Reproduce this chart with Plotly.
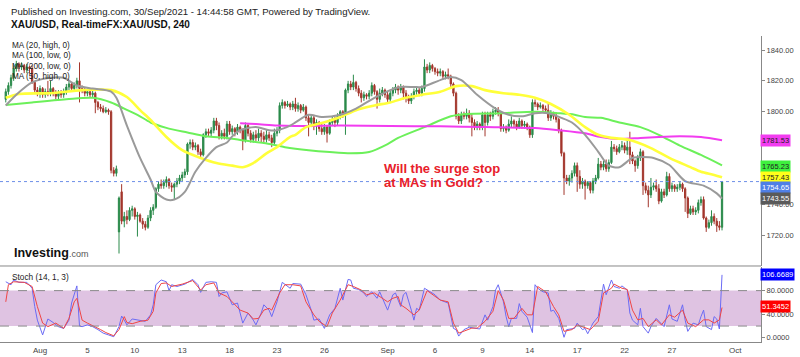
import plotly.graph_objects as go

# ---------------- DATA (4h candles, bar index 0..272) ----------------
opens = [1808,1813,1817,1822,1828,1831,1829,1830,1827,1829,1828,1819,1814,
 1812,1815,1811,1813,1812,1815, 1812,1810,1812,1811,1813,1816,
 1818,1815,1817,1820,1815,1814, 1812,1813,1811,1812,1806,1803,
 1802,1800,1801,1800,1762,1760, 1722,1748,1729,1732,1730,1736,
 1737,1732,1733,1729,1727,1725, 1731,1736,1738,1750,1753,1752,
 1754,1756,1752,1751,1753,1755, 1757,1759,1761,1779,1780,1777,
 1778,1774,1772,1785,1787,1786, 1788,1794,1791,1784,1786,1784,
 1792,1787,1789,1787,1790,1788, 1781,1791,1786,1782,1785,1783,
 1786,1784,1782,1785,1783,1780, 1786,1788,1804,1806,1804,1805,
 1803,1805,1802,1804,1801,1803, 1796,1793,1796,1792,1793,1789,
 1787,1790,1786,1793,1795,1793, 1797,1800,1798,1814,1818,1816,
 1819,1815,1812,1809,1811,1810, 1812,1817,1813,1808,1812,1814,
 1811,1808,1812,1814,1816,1814, 1816,1812,1809,1807,1810,1813,
 1814,1812,1815,1829,1827,1830, 1828,1826,1825,1826,1823,1824,
 1823,1818,1812,1797,1794,1798, 1797,1799,1796,1793,1790,1792,
 1790,1798,1793,1798,1797,1800, 1801,1799,1789,1790,1788,1792,
 1794,1792,1790,1794,1791,1792, 1790,1785,1806,1805,1803,1804,
 1802,1801,1796,1799,1797,1795, 1788,1773,1757,1755,1757,1760,
 1765,1758,1753,1755,1752,1754, 1749,1755,1757,1766,1764,1766,
 1763,1767,1777,1776,1774,1777, 1778,1775,1777,1772,1768,1765,
 1770,1774,1752,1749,1746,1751, 1752,1750,1742,1748,1746,1758,
 1750,1752,1750,1751,1753,1750, 1744,1734,1737,1735,1736,1741,
 1743,1731,1725,1728,1732,1729, 1726,1725]
highs = [1815,1819,1824,1830,1833,1832,1832,1831,1831,1830,1830,1820,1816,
 1817,1816,1815,1820,1820,1816, 1814,1814,1814,1815,1818,1820,
 1819,1819,1822,1832,1817,1816, 1815,1814,1814,1813,1807,1805,
 1804,1803,1802,1801,1764,1765, 1745,1753,1735,1736,1738,1739,
 1738,1735,1734,1731,1729,1733, 1738,1740,1751,1755,1756,1756,
 1758,1757,1754,1754,1757,1759, 1761,1763,1780,1782,1782,1780,
 1779,1776,1786,1789,1789,1790, 1796,1796,1793,1788,1789,1794,
 1794,1791,1790,1792,1791,1789, 1793,1792,1788,1787,1788,1789,
 1788,1787,1788,1787,1785,1789, 1790,1806,1808,1807,1807,1806,
 1807,1809,1806,1805,1805,1804, 1798,1798,1798,1795,1794,1792,
 1792,1791,1795,1797,1797,1799, 1801,1801,1815,1820,1820,1824,
 1820,1817,1814,1813,1812,1814, 1819,1818,1814,1815,1816,1815,
 1813,1814,1816,1818,1817,1818, 1817,1814,1811,1812,1815,1816,
 1816,1817,1834,1831,1832,1831, 1829,1828,1828,1827,1826,1828,
 1824,1819,1813,1799,1800,1800, 1802,1801,1799,1795,1794,1793,
 1800,1800,1800,1800,1802,1803, 1803,1800,1792,1791,1795,1797,
 1795,1794,1796,1795,1794,1793, 1791,1808,1808,1806,1806,1805,
 1804,1806,1801,1800,1799,1796, 1789,1774,1759,1759,1762,1767,
 1767,1762,1757,1756,1755,1755, 1757,1759,1770,1768,1768,1769,
 1769,1781,1779,1778,1779,1781, 1780,1782,1787,1774,1769,1772,
 1776,1775,1754,1752,1757,1754, 1756,1753,1750,1750,1761,1760,
 1754,1753,1753,1755,1754,1751, 1745,1739,1739,1738,1743,1745,
 1745,1732,1730,1736,1734,1731, 1729,1755]
lows = [1806,1811,1815,1820,1826,1826,1827,1825,1825,1825,1818,1812,1810,
 1809,1809,1809,1810,1810,1810, 1808,1808,1809,1809,1811,1814,
 1813,1813,1815,1806,1812,1810, 1810,1809,1809,1799,1801,1800,
 1799,1799,1798,1760,1758,1758, 1708,1727,1725,1727,1729,1732,
 1730,1719,1728,1724,1723,1724, 1729,1733,1737,1748,1750,1750,
 1751,1750,1748,1743,1751,1753, 1755,1757,1759,1776,1775,1775,
 1772,1770,1771,1783,1784,1784, 1786,1788,1782,1782,1782,1782,
 1785,1785,1784,1785,1786,1775, 1780,1784,1780,1780,1781,1781,
 1780,1780,1780,1781,1777,1779, 1784,1786,1802,1802,1803,1801,
 1801,1800,1800,1799,1800,1794, 1784,1790,1788,1785,1787,1785,
 1785,1780,1785,1791,1790,1791, 1795,1796,1785,1812,1814,1814,
 1813,1810,1806,1807,1808,1808, 1810,1811,1802,1806,1810,1809,
 1806,1806,1810,1812,1811,1812, 1808,1806,1805,1805,1808,1811,
 1810,1810,1813,1825,1825,1826, 1824,1823,1823,1821,1821,1821,
 1816,1810,1795,1792,1792,1795, 1795,1793,1784,1788,1788,1788,
 1788,1784,1791,1794,1795,1798, 1797,1787,1787,1786,1787,1790,
 1790,1788,1789,1789,1789,1788, 1783,1783,1803,1801,1802,1800,
 1799,1794,1794,1795,1793,1786, 1771,1746,1753,1752,1754,1758,
 1748,1750,1750,1743,1750,1747, 1747,1753,1756,1762,1762,1761,
 1761,1766,1774,1772,1773,1775, 1773,1772,1766,1766,1761,1763,
 1768,1746,1747,1738,1744,1749, 1748,1740,1741,1744,1745,1748,
 1748,1748,1748,1749,1748,1735, 1731,1733,1733,1733,1734,1739,
 1730,1722,1724,1726,1727,1722, 1723,1723]
closes = [1813,1817,1822,1828,1831,1829,1830,1827,1829,1828,1819,1814,1812,
 1815,1811,1813,1812,1815,1812, 1810,1812,1811,1813,1816,1818,
 1815,1817,1820,1815,1814,1812, 1813,1811,1812,1806,1803,1802,
 1800,1801,1800,1762,1760,1763, 1744,1729,1732,1730,1736,1737,
 1732,1733,1729,1727,1725,1731, 1736,1738,1750,1753,1752,1754,
 1756,1752,1751,1753,1755,1757, 1759,1761,1779,1780,1777,1778,
 1774,1772,1785,1787,1786,1788, 1794,1791,1784,1786,1784,1792,
 1787,1789,1787,1790,1788,1781, 1791,1786,1782,1785,1783,1786,
 1784,1782,1785,1783,1780,1786, 1788,1804,1806,1804,1805,1803,
 1805,1802,1804,1801,1803,1796, 1793,1796,1792,1793,1789,1787,
 1790,1786,1793,1795,1793,1797, 1800,1798,1814,1818,1816,1819,
 1815,1812,1809,1811,1810,1812, 1817,1813,1808,1812,1814,1811,
 1808,1812,1814,1816,1814,1816, 1812,1809,1807,1810,1813,1814,
 1812,1815,1829,1827,1830,1828, 1826,1825,1826,1823,1824,1823,
 1818,1812,1797,1794,1798,1797, 1799,1796,1793,1790,1792,1790,
 1798,1793,1798,1797,1800,1801, 1799,1789,1790,1788,1792,1794,
 1792,1790,1794,1791,1792,1790, 1785,1806,1805,1803,1804,1802,
 1801,1796,1799,1797,1795,1788, 1773,1757,1755,1757,1760,1765,
 1758,1753,1755,1752,1754,1749, 1755,1757,1766,1764,1766,1763,
 1767,1777,1776,1774,1777,1778, 1775,1777,1772,1768,1765,1770,
 1774,1752,1749,1746,1751,1752, 1750,1742,1748,1746,1758,1750,
 1752,1750,1751,1753,1750,1744, 1734,1737,1735,1736,1741,1743,
 1731,1725,1728,1732,1729,1726, 1725,1754.65]

# Moving averages (bar index, value)
ma20_idx = [0,4,10,17,22,27,33,40,42,46,51,55,57,61,64,68,72,76,80,84,86,89,91,95,100,103,108,110,115,120,127,133,140,146,150,155,158,165,169,173,179,186,191,196,201,206,211,215,220,225,229,233,238,242,246,252,258,265,270,272]
ma20_val = [1804,1811,1819,1822,1822,1817,1815,1813,1809,1791,1770,1756,1748,1743,1743,1748,1761,1770,1777,1780,1784,1788,1789,1790,1788,1788,1791,1793,1798,1796.5,1798,1802,1809,1814,1816,1816,1816,1820.5,1822.5,1820.5,1811,1802,1798,1797,1799,1799,1796,1793,1785,1774,1765,1764,1770,1770.6,1770,1765.4,1755,1752,1747,1743.55]
ma50_idx = [0,5,17,29,40,46,51,55,61,67,74,80,86,90,94,99,103,108,110,114,120,127,133,140,146,152,158,165,171,177,182,189,195,201,207,214,220,225,230,237,245,252,260,264,269,272]
ma50_val = [1809,1811.5,1812,1814,1814,1809.5,1801,1794.6,1783.6,1775,1770,1766.7,1765,1764,1766.7,1773,1777,1783.6,1785,1790,1792.6,1796.5,1801,1804,1806,1809,1811,1813,1816.6,1816.6,1814,1812,1811,1809,1805,1798,1790,1785,1783,1781.6,1776.4,1770,1764,1761,1759,1757.43]
ma100_idx = [0,10,23,33,40,45,50,55,61,69,76,84,89,98,106,115,123,131,138,145,149,159,169,175,188,201,210,216,220,226,233,241,248,256,264,272]
ma100_val = [1804.3,1806,1808,1809,1806,1802,1798,1793,1789.5,1786.5,1784,1783,1781.6,1779.7,1777,1775,1773.8,1773,1773.8,1779,1783,1790,1797,1798.5,1799,1800,1799,1798,1796.5,1796,1793,1790,1785,1778,1772,1765.23]
ma200_idx = [89,95,103,110,127,146,165,182,201,210,220,226,233,241,248,256,264,272]
ma200_val = [1792.5,1792,1791,1790.7,1791,1790.7,1790.5,1790,1789.4,1788,1786,1783.6,1782.3,1783,1783.6,1784,1783.6,1781.53]

# Stochastic (14,1,3): %K blue, %D red (bar index, value)
k_idx = [0,2,3,5,8,10,11,12,14,16,18,20,22,24,25,26,27,28,29,31,33,35,37,39,41,43,44,45,46,48,51,53,55,56,57,59,61,62,63,65,68,71,73,74,76,78,80,81,82,84,86,88,90,92,94,95,97,98,100,101,103,105,108,109,112,114,116,117,119,121,123,125,127,128,130,131,132,134,136,137,139,141,142,144,145,147,148,149,150,151,152,154,155,156,157,159,161,163,165,167,168,170,171,172,174,176,178,180,182,183,185,186,187,189,190,191,192,194,195,196,198,200,201,202,204,206,207,208,210,212,213,216,217,219,220,221,223,225,227,228,230,231,233,234,236,237,238,240,241,242,244,245,247,248,250,252,253,255,257,258,259,261,263,264,265,266,268,269,270,271,272]
k_val = [95,90,98,94,94,84,53,30,5,32,26,19,16,30,59,73,88,20,19,22,19,14,8,5,2,19,37,30,22,32,29,28,39,56,90,98,95,80,90,87,91,99,90,77,94,95,94,70,76,78,56,59,25,42,30,22,42,56,47,36,61,94,84,92,91,73,47,30,32,16,39,50,84,64,99,98,84,82,76,70,78,67,78,56,47,73,76,64,53,73,77,47,30,50,47,84,78,73,64,61,59,16,14,3,14,18,16,15,39,30,53,81,90,61,36,19,33,33,58,45,35,9,90,84,78,76,45,47,33,1,14,16,25,14,16,7,25,36,91,73,98,87,84,88,81,42,30,22,50,19,8,19,33,28,19,56,32,28,56,30,11,25,22,36,47,19,14,36,32,15,106.6689]
d_idx = [0,1,3,7,10,12,14,16,19,22,24,26,27,29,31,33,36,38,41,43,45,46,48,51,54,56,57,59,61,63,67,71,74,76,79,81,84,86,89,92,94,96,98,100,101,104,106,109,112,114,117,119,122,124,127,130,132,135,137,140,142,145,147,149,150,152,155,157,160,162,165,168,170,172,174,177,179,182,185,187,189,191,193,196,198,200,202,205,208,210,212,215,217,220,222,225,227,230,231,234,236,238,240,242,244,247,249,252,254,257,259,262,265,267,269,271,272]
d_val = [61,90,95,94,87,53,25,19,25,16,33,61,67,30,25,21,14,9,3.5,14,36,26,24,28,30,45,76,92,93,87,91,97,81,90,93,76,70,61,47,42,32,33,47,50,47,76,90,90,88,61,39,28,19,42,64,90,87,81,73,76,70,61,67,70,56,50,39,47,80,73,64,61,25,8,11,16.5,16.5,28,45,80,64,33,33,50,39,39,87,78,53,39,11,14,22,16.5,14,28,76,84,91,84,82,47,30.5,33,19,30.5,22,39,35,47,25,19,30.5,30.5,25,30.5,51.3452]

tick_idx = [13,31,49,67,85,103,121,145,163,181,199,217,235,253,277]
tick_lbl = ["Aug","5","10","13","18","23","26","Sep","6","9","14","17","22","27","Oct"]
price_ticks = [1720,1740,1800,1820,1840]
stoch_ticks = [0,40,80]

assert len(opens)==len(highs)==len(lows)==len(closes)==273
assert len(ma20_idx)==len(ma20_val) and len(ma50_idx)==len(ma50_val)
assert len(ma100_idx)==len(ma100_val) and len(ma200_idx)==len(ma200_val)
assert len(k_idx)==len(k_val) and len(d_idx)==len(d_val)

bars = list(range(len(closes)))
last_price = closes[-1]

FONT = "Arial, Liberation Sans, sans-serif"
GREEN_C = "#2a8a4a"
RED_C = "#a3362c"

fig = go.Figure()
fig.add_trace(go.Candlestick(
    x=bars, open=opens, high=highs, low=lows, close=closes,
    increasing=dict(line=dict(color=GREEN_C, width=1), fillcolor=GREEN_C),
    decreasing=dict(line=dict(color=RED_C, width=1), fillcolor=RED_C),
    xaxis="x", yaxis="y", showlegend=False, hoverinfo="skip"))

for idx, val, col, w in [(ma100_idx, ma100_val, "#6cf05a", 2),
                         (ma200_idx, ma200_val, "#f23cf0", 2),
                         (ma50_idx, ma50_val, "#ffff3a", 2.6),
                         (ma20_idx, ma20_val, "#9a9a9a", 2)]:
    fig.add_trace(go.Scatter(x=idx, y=val, mode="lines",
                             line=dict(color=col, width=w, shape="spline", smoothing=0.8),
                             xaxis="x", yaxis="y", showlegend=False, hoverinfo="skip"))

fig.add_trace(go.Scatter(x=k_idx, y=k_val, mode="lines", line=dict(color="#6b6bf5", width=1),
                         xaxis="x", yaxis="y2", showlegend=False, hoverinfo="skip"))
fig.add_trace(go.Scatter(x=d_idx, y=d_val, mode="lines", line=dict(color="#f04545", width=1),
                         xaxis="x", yaxis="y2", showlegend=False, hoverinfo="skip"))

# panel geometry (plot area 761 x 306 px)
MAIN_DOM = [0.2484, 1.0]
STO_DOM = [0.0, 0.2451]

def py(px):
    return (342 - px) / 306.0

def pxx(px):
    return px / 761.0

shapes = [
    dict(type="rect", xref="paper", x0=0, x1=1, yref="y2", y0=20, y1=80,
         fillcolor="#dfc3e2", line=dict(width=0), layer="below"),
    dict(type="line", xref="paper", x0=0, x1=1, yref="y2", y0=80, y1=80,
         line=dict(color="#8a8a8a", width=1, dash="dash")),
    dict(type="line", xref="paper", x0=0, x1=1, yref="y2", y0=20, y1=20,
         line=dict(color="#8a8a8a", width=1, dash="dash")),
    dict(type="line", xref="paper", x0=0, x1=1, yref="y", y0=last_price, y1=last_price,
         line=dict(color="#6d8fe8", width=1, dash="dot")),
    dict(type="line", xref="paper", x0=0, x1=1, yref="paper", y0=MAIN_DOM[0], y1=MAIN_DOM[0],
         line=dict(color="#888888", width=1)),
]

ann = []
def txt(text, x, y, size, color="#222", bold=False, xanchor="left"):
    ann.append(dict(text=("<b>%s</b>" % text) if bold else text, xref="paper", yref="paper",
                    x=x, y=y, xanchor=xanchor, yanchor="middle", showarrow=False,
                    font=dict(family=FONT, size=size, color=color)))

txt("Published on Investing.com, 30/Sep/2021 - 14:44:58 GMT, Powered by TradingView.", pxx(9), py(11), 9.6, "#222")
txt("XAU/USD, Real-timeFX:XAU/USD, 240", pxx(9), py(25), 10, "#111", bold=True)
for i, lbl in enumerate(["MA (20, high, 0)", "MA (100, low, 0)", "MA (200, low, 0)", "MA (50, high, 0)"]):
    txt(lbl, pxx(10), py(45 + i * 10.6), 8.2, "#222")
txt("Stoch (14, 1, 3)", pxx(10), py(277), 8.3, "#222")
txt("Will the surge stop", pxx(382), py(168), 13, "#e8202a", bold=True)
txt("at MAs in Gold?", pxx(382), py(182.5), 13, "#e8202a", bold=True)
ann.append(dict(text="<b>Investing</b><span style='font-size:9px;color:#555'>.com</span>",
                xref="paper", yref="paper", x=pxx(12), y=py(253), xanchor="left", yanchor="middle",
                showarrow=False, font=dict(family=FONT, size=12.5, color="#111")))

def tag(value, yref, bg, fg, text, yshift=0):
    ann.append(dict(text=text, xref="paper", x=1.0, xanchor="left", xshift=-1,
                    yref=yref, y=value, yanchor="middle", yshift=yshift, showarrow=False,
                    bgcolor=bg, borderpad=1,
                    font=dict(family=FONT, size=7.5, color=fg)))

tag(ma200_val[-1], "y", "#f23cf0", "#222", "%.2f" % ma200_val[-1])
tag(ma100_val[-1], "y", "#3ef03e", "#222", "%.2f" % ma100_val[-1], yshift=-1)
tag(ma50_val[-1], "y", "#ffff1a", "#222", "%.2f" % ma50_val[-1])
tag(last_price, "y", "#4f7fe6", "#ffffff", "%.2f" % last_price, yshift=-6)
tag(ma20_val[-1], "y", "#5a5a5a", "#ffffff", "%.2f" % ma20_val[-1])
tag(k_val[-1], "y2", "#0000ff", "#ffffff", "%.4f" % k_val[-1])
tag(d_val[-1], "y2", "#ff0000", "#ffffff", "%.4f" % d_val[-1], yshift=1)

axis_font = dict(family=FONT, size=7.5, color="#444")
fig.update_layout(
    width=800, height=357,
    margin=dict(l=0, r=39, t=36, b=15),
    paper_bgcolor="white", plot_bgcolor="white",
    showlegend=False, hovermode=False,
    xaxis=dict(domain=[0, 1], anchor="y2", range=[-2.19, 286.8],
               tickvals=tick_idx, ticktext=tick_lbl, ticks="", showgrid=False,
               zeroline=False, showline=True, linecolor="#888888", linewidth=1,
               tickfont=dict(family=FONT, size=8, color="#444"),
               rangeslider=dict(visible=False), automargin=False),
    yaxis=dict(domain=MAIN_DOM, anchor="x", side="right", range=[1699.9, 1849.1],
               tickvals=price_ticks, tickformat=".2f", ticks="outside", ticklen=3,
               tickcolor="#888888", showgrid=False, zeroline=False, showline=True,
               linecolor="#888888", linewidth=1, tickfont=axis_font, automargin=False),
    yaxis2=dict(domain=STO_DOM, anchor="x", side="right", range=[-7, 120],
                tickvals=stoch_ticks, tickformat=".4f", ticks="outside", ticklen=3,
                tickcolor="#888888", showgrid=False, zeroline=False, showline=True,
                linecolor="#888888", linewidth=1, tickfont=axis_font, automargin=False),
    shapes=shapes, annotations=ann,
)

fig.write_html("out.html", config={"displayModeBar": False},
               post_script="document.body.style.margin='0px';document.body.style.overflow='hidden';")
